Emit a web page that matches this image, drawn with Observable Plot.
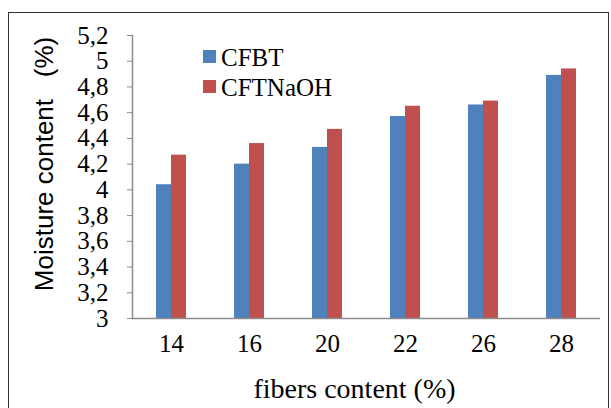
<!DOCTYPE html>
<html><head><meta charset="utf-8">
<script src="https://cdn.jsdelivr.net/npm/d3@7"></script>
<script src="https://cdn.jsdelivr.net/npm/@observablehq/plot@0.6"></script>
<style>
html,body{margin:0;padding:0;background:#fff;overflow:hidden}
#wrap{position:relative;width:611px;height:408px;overflow:hidden}
#border{position:absolute;left:8px;top:12px;width:601px;height:420px;border:1.5px solid #333;box-sizing:border-box}
#chart{position:absolute;left:0;top:0}
.leg{position:absolute;font-family:"Liberation Serif";font-size:25px;line-height:25px;color:#000;white-space:nowrap}
.sw{position:absolute;width:13px;height:13px}
</style></head><body>
<div id="wrap"><div id="border"></div><div id="chart"></div><div id="legend"></div></div>
<script>
const categories = ["14", "16", "20", "22", "26", "28"];
const seriesNames = ["CFBT", "CFTNaOH"];
const cfbt = [4.04, 4.20, 4.33, 4.57, 4.66, 4.89];
const cftnaoh = [4.27, 4.36, 4.47, 4.65, 4.69, 4.94];
const yDomain = [3, 5.2];
const yTicks = [3, 3.2, 3.4, 3.6, 3.8, 4, 4.2, 4.4, 4.6, 4.8, 5, 5.2];
const colors = ["#4F81BD", "#C0504D"];
const xTitle = "fibers content (%)";
const yTitle = "Moisture content\u00a0\u00a0\u00a0(%)";

const data = categories.flatMap((c, i) => [
  {cat: c, series: seriesNames[0], value: cfbt[i]},
  {cat: c, series: seriesNames[1], value: cftnaoh[i]}
]);

const serif = "Liberation Serif";
const chart = Plot.plot({
  width: 611, height: 408,
  marginLeft: 130, marginRight: 10, marginTop: 35, marginBottom: 90,
  style: {fontFamily: serif, fontSize: "24px", color: "#000", background: "transparent"},
  fx: {domain: categories, padding: 0},
  x: {domain: seriesNames, paddingInner: 0, paddingOuter: 1.53, axis: null},
  y: {domain: yDomain},
  color: {domain: seriesNames, range: colors},
  marks: [
    Plot.barY(data, {fx: "cat", x: "series", y1: yDomain[0], y2: "value", fill: "series"}),
    Plot.ruleY([yDomain[0]], {stroke: "#8c8c8c", strokeWidth: 1.5}),
    Plot.frame({anchor: "left", stroke: "#8c8c8c", strokeWidth: 1.5, facetAnchor: "left"}),
    Plot.axisFx({anchor: "bottom", tickSize: 0, tickPadding: 16, fontSize: 25, fill: "#000", label: null}),
    Plot.axisY({ticks: yTicks, tickFormat: d => String(d).replace(".", ","), tickSize: 5, tickPadding: 19, fontSize: 25, fill: "#000", stroke: "#8c8c8c", label: null}),
    // x title, anchored at the left edge of the 4th facet (= middle of the plot)
    Plot.text([{cat: categories[3], label: xTitle}], {fx: "cat", text: "label", frameAnchor: "bottom-left", textAnchor: "middle", lineAnchor: "middle", dx: -12, dy: 71, fontFamily: serif, fontSize: 28, fill: "#000"}),
    Plot.text([yTitle], {frameAnchor: "left", rotate: -90, dx: -88, dy: -13, textAnchor: "middle", fontFamily: "Liberation Sans", fontSize: 26, fill: "#000", facetAnchor: "left"})
  ]
});
document.getElementById("chart").append(chart);

const legend = document.getElementById("legend");
seriesNames.forEach((s, i) => {
  const sw = document.createElement("div");
  sw.className = "sw";
  sw.style.left = "203px";
  sw.style.top = (50 + i * 30) + "px";
  sw.style.background = colors[i];
  legend.append(sw);
  const t = document.createElement("div");
  t.className = "leg";
  t.style.left = "221px";
  t.style.top = (45 + i * 30) + "px";
  t.textContent = s;
  legend.append(t);
});
</script>
</body></html>
